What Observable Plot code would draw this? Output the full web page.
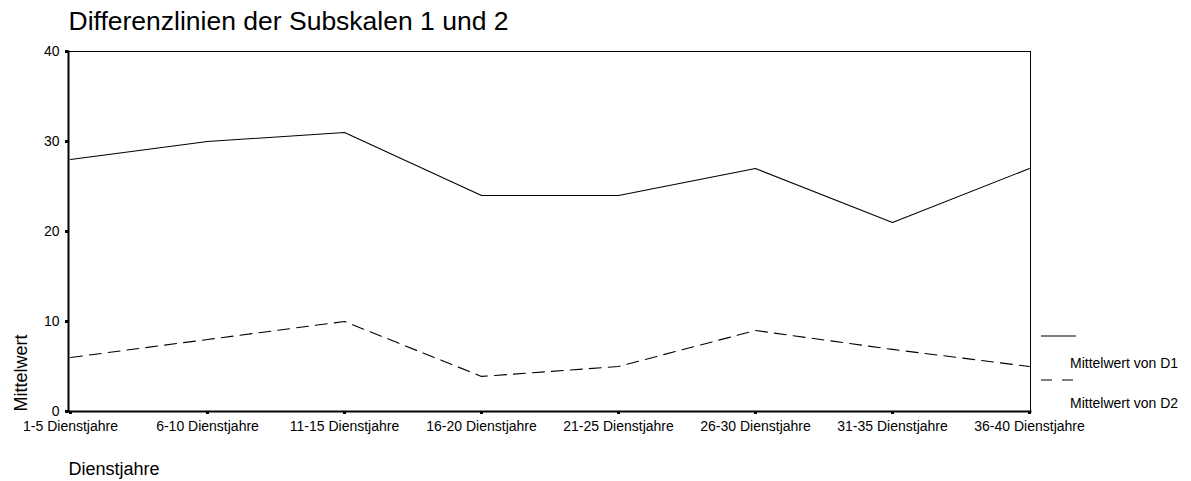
<!DOCTYPE html>
<html>
<head>
<meta charset="utf-8">
<script src="https://cdn.jsdelivr.net/npm/d3@7"></script>
<script src="https://cdn.jsdelivr.net/npm/@observablehq/plot@0.6"></script>
<style>
  html, body { margin: 0; padding: 0; background: white; }
  #wrap { position: relative; width: 1191px; height: 481px; font-family: "Liberation Sans", Arial, sans-serif; }
  #legend { position: absolute; left: 0; top: 0; pointer-events: none; }
</style>
</head>
<body>
<div id="wrap"></div>
<script>
const title = "Differenzlinien der Subskalen 1 und 2";
const categories = ["1-5 Dienstjahre", "6-10 Dienstjahre", "11-15 Dienstjahre", "16-20 Dienstjahre",
                    "21-25 Dienstjahre", "26-30 Dienstjahre", "31-35 Dienstjahre", "36-40 Dienstjahre"];
const d1 = [28, 30, 31, 24, 24, 27, 21, 27];
const d2 = [6, 8, 10, 3.9, 5, 9, 6.9, 5];
const seriesNames = ["Mittelwert von D1", "Mittelwert von D2"];
const yTicks = [0, 10, 20, 30, 40];
const yLabel = "Mittelwert";
const xLabel = "Dienstjahre";

const rows = [];
categories.forEach((c, i) => {
  rows.push({cat: c, value: d1[i], series: seriesNames[0]});
  rows.push({cat: c, value: d2[i], series: seriesNames[1]});
});

const font = "'Liberation Sans', Arial, sans-serif";
const dash = "12,7";

const chart = Plot.plot({
  width: 1191,
  height: 481,
  marginLeft: 68,
  marginRight: 161,
  marginTop: 51,
  marginBottom: 70,
  style: {fontFamily: font, fontSize: "14px", color: "black", background: "white", overflow: "visible"},
  x: {type: "point", domain: categories, padding: 0},
  y: {domain: [0, 40]},
  marks: [
    Plot.frame({stroke: "black", strokeWidth: 1}),
    Plot.frame({anchor: "left", stroke: "black", strokeWidth: 2}),
    Plot.frame({anchor: "bottom", stroke: "black", strokeWidth: 2}),
    Plot.axisX({ticks: categories, tickSize: 3, tickPadding: 7, strokeWidth: 3, label: null, fontSize: 14}),
    Plot.axisY({ticks: yTicks, tickSize: 3, tickPadding: 6, strokeWidth: 3, label: null, fontSize: 14}),
    Plot.line(rows.filter(d => d.series === seriesNames[0]), {x: "cat", y: "value", stroke: "black", strokeWidth: 1.1}),
    Plot.line(rows.filter(d => d.series === seriesNames[1]), {x: "cat", y: "value", stroke: "black", strokeWidth: 1.1, strokeDasharray: dash}),
    Plot.text([title], {frameAnchor: "top-left", dy: -22, textAnchor: "start", lineAnchor: "bottom", fontSize: 26.5, fill: "black"}),
    Plot.text([yLabel], {frameAnchor: "bottom-left", rotate: -90, dx: -42, textAnchor: "start", lineAnchor: "bottom", fontSize: 18, fill: "black"}),
    Plot.text([xLabel], {frameAnchor: "bottom-left", dy: 63, textAnchor: "start", lineAnchor: "bottom", fontSize: 18, fill: "black"})
  ]
});

const wrap = document.getElementById("wrap");
wrap.appendChild(chart);

// Legend
const leg = d3.select(wrap).append("svg")
  .attr("id", "legend")
  .attr("width", 1191).attr("height", 481)
  .style("font-family", font).style("font-size", "14px");
const styles = [null, "11,10"];
seriesNames.forEach((name, i) => {
  const y0 = 336 + i * 44;
  leg.append("line")
    .attr("x1", 1041).attr("x2", 1076).attr("y1", y0).attr("y2", y0)
    .attr("stroke", "black").attr("stroke-width", 1.2)
    .attr("stroke-dasharray", styles[i]);
  leg.append("text")
    .attr("x", 1070).attr("y", y0 + 27 - i * 4 + 5)
    .attr("fill", "black")
    .text(name);
});
</script>
</body>
</html>
